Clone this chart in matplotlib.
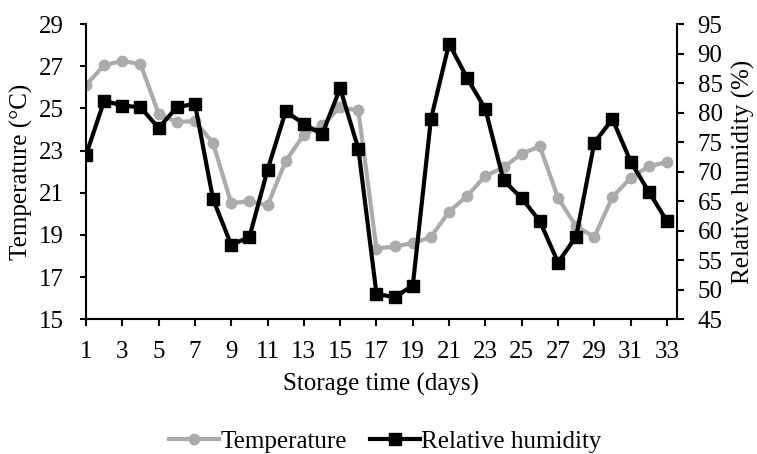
import matplotlib
matplotlib.use("Agg")
import matplotlib.pyplot as plt

days = list(range(1, 34))
temperature = [26.1, 27.05, 27.25, 27.1, 24.75, 24.35, 24.4, 23.35, 20.5, 20.6,
               20.4, 22.5, 23.75, 24.2, 25.05, 24.9, 18.35, 18.45, 18.6, 18.9,
               20.1, 20.85, 21.8, 22.2, 22.85, 23.2, 20.75, 19.4, 18.9, 20.8,
               21.7, 22.25, 22.45]
humidity = [72.8, 82.0, 81.2, 80.9, 77.4, 80.9, 81.5, 65.3, 57.6, 58.9,
            70.3, 80.2, 78.1, 76.3, 84.1, 73.9, 49.3, 48.7, 50.7, 78.9,
            91.7, 85.8, 80.6, 68.5, 65.5, 61.6, 54.6, 59.0, 74.9, 78.9,
            71.7, 66.6, 61.6]
temp_ticks = [15, 17, 19, 21, 23, 25, 27, 29]
rh_ticks = list(range(45, 100, 5))
day_ticks = list(range(1, 34, 2))

plt.rcParams['font.family'] = ['Liberation Serif', 'DejaVu Serif']

fig = plt.figure(figsize=(7.57, 4.54), dpi=100)
ax = fig.add_axes([0.1136, 0.297, 0.894 - 0.1136, 0.947 - 0.297])
ax2 = ax.twinx()

gray = '#ABABAB'
l1, = ax.plot(days, temperature, color=gray, lw=3.0, marker='o', ms=7.5,
              markeredgecolor=gray, label='Temperature', zorder=2)
l2, = ax2.plot(days, humidity, color='black', lw=3.0, marker='s', ms=8.8,
               label='Relative humidity', zorder=3)

ax.set_xlim(1, 33.54)
ax.set_ylim(15, 29)
ax2.set_ylim(45, 95)
ax.set_yticks(temp_ticks)
ax2.set_yticks(rh_ticks)
ax.set_xticks(day_ticks)

fs = 18
ax.tick_params(axis='x', labelsize=fs, width=1.5, length=5, color='black', pad=10.5)
ax.tick_params(axis='y', labelsize=fs, width=1.5, length=4.5, color='black', pad=11.5)
ax2.tick_params(axis='y', labelsize=fs, width=1.5, length=5, pad=10)
for a in (ax, ax2):
    a.spines['top'].set_visible(False)
    for s in ('left', 'right', 'bottom'):
        a.spines[s].set_linewidth(1.5)
ax2.spines['left'].set_visible(False)
ax2.spines['bottom'].set_visible(False)
ax.spines['right'].set_visible(False)

ax.set_xlabel('Storage time (days)', fontsize=fs, labelpad=7)
ax.set_ylabel('Temperature (°C)', fontsize=fs, labelpad=4)
ax2.set_ylabel('Relative humidity (%)', fontsize=fs, labelpad=7)

fig.legend(handles=[l1, l2], loc='center', bbox_to_anchor=(0.509, 0.027), ncol=2,
           frameon=False, fontsize=fs, handlelength=2.0, columnspacing=0.9,
           handletextpad=0.05)

fig.savefig('out.png', dpi=100)
